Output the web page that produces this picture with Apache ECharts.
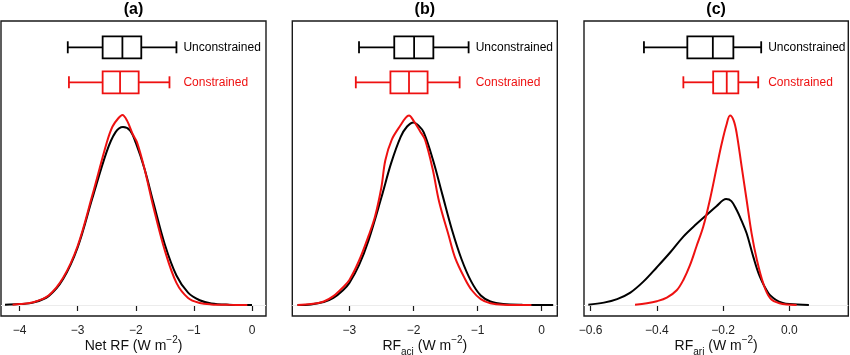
<!DOCTYPE html>
<html><head><meta charset="utf-8">
<script src="https://cdn.jsdelivr.net/npm/echarts@6/dist/echarts.min.js"></script>
<style>html,body{margin:0;padding:0;background:#fff}#c{width:850px;height:355px}</style>
</head><body><div id="c"></div>
<script>
// ---- data ----
const panelTitles = ['(a)', '(b)', '(c)'];
const ticksA = [-4, -3, -2, -1, 0];
const ticksB = [-3, -2, -1, 0];
const ticksC = [-0.6, -0.4, -0.2, 0.0];

// density curves (x, y) — y in relative density units
const uncAx = [-4.25,-4.0,-3.75,-3.5,-3.25,-3.0,-2.75,-2.5,-2.35,-2.22,-2.1,-2.0,-1.85,-1.7,-1.5,-1.3,-1.1,-0.9,-0.7,-0.4,0.0];
const uncAy = [0.001,0.003,0.009,0.03,0.088,0.195,0.36,0.52,0.585,0.603,0.592,0.55,0.462,0.35,0.205,0.1,0.042,0.016,0.005,0.001,0.0];
const conAx = [-4.12,-4.0,-3.75,-3.5,-3.25,-3.0,-2.75,-2.5,-2.4,-2.3,-2.23,-2.15,-2.05,-1.98,-1.85,-1.7,-1.5,-1.3,-1.1,-0.9,-0.7,-0.4,-0.08];
const conAy = [0.001,0.003,0.01,0.032,0.092,0.2,0.37,0.55,0.605,0.633,0.644,0.625,0.578,0.552,0.462,0.335,0.185,0.075,0.024,0.007,0.002,0.0005,0.0];

const uncBx = [-3.81,-3.6,-3.4,-3.25,-3.1,-3.0,-2.85,-2.7,-2.5,-2.35,-2.2,-2.1,-2.0,-1.92,-1.84,-1.7,-1.55,-1.4,-1.25,-1.1,-0.95,-0.8,-0.6,-0.3,0.18];
const uncBy = [0.0,0.002,0.01,0.024,0.05,0.075,0.135,0.22,0.365,0.48,0.57,0.605,0.619,0.608,0.585,0.495,0.375,0.255,0.155,0.08,0.032,0.012,0.003,0.0005,0.0];
const conBx = [-3.81,-3.6,-3.4,-3.25,-3.1,-3.0,-2.85,-2.7,-2.6,-2.5,-2.44,-2.34,-2.2,-2.12,-2.07,-2.0,-1.9,-1.82,-1.7,-1.6,-1.45,-1.35,-1.2,-1.09,-0.95,-0.8,-0.6,-0.16];
const conBy = [0.0,0.003,0.012,0.03,0.06,0.085,0.15,0.235,0.30,0.40,0.49,0.56,0.61,0.635,0.642,0.625,0.59,0.56,0.46,0.35,0.235,0.16,0.09,0.05,0.02,0.006,0.001,0.0];

const uncCx = [-0.607,-0.56,-0.52,-0.48,-0.44,-0.40,-0.36,-0.32,-0.285,-0.25,-0.22,-0.191,-0.175,-0.159,-0.144,-0.129,-0.109,-0.089,-0.063,-0.04,-0.02,0.0,0.059];
const uncCy = [0.001,0.008,0.02,0.042,0.08,0.128,0.178,0.232,0.27,0.305,0.335,0.359,0.352,0.322,0.285,0.243,0.164,0.096,0.04,0.017,0.007,0.003,0.0];
const conCx = [-0.466,-0.43,-0.40,-0.37,-0.34,-0.32,-0.30,-0.28,-0.26,-0.24,-0.219,-0.204,-0.19,-0.179,-0.168,-0.159,-0.144,-0.129,-0.114,-0.098,-0.079,-0.058,-0.03,0.022];
const conCy = [0.001,0.006,0.013,0.025,0.05,0.085,0.135,0.2,0.265,0.356,0.469,0.548,0.61,0.642,0.625,0.582,0.469,0.356,0.243,0.153,0.074,0.023,0.006,0.0];

// boxplot stats: [min, q1, median, q3, max]
const boxUncA = [-3.17, -2.57, -2.23, -1.905, -1.30];
const boxConA = [-3.15, -2.57, -2.27, -1.95, -1.42];
const boxUncB = [-2.85, -2.30, -1.99, -1.69, -1.14];
const boxConB = [-2.90, -2.36, -2.07, -1.78, -1.28];
const boxUncC = [-0.439, -0.308, -0.231, -0.169, -0.085];
const boxConC = [-0.320, -0.230, -0.189, -0.154, -0.094];
const boxLabels = ['Unconstrained', 'Constrained'];
const labelXs = [-1.18, -1.03, -0.064];
</script>
<script>
const FONT = '"Liberation Sans", Arial, Helvetica, sans-serif';
const BLACK = '#000000', RED = '#ee1111';
const zip = (xs, ys) => xs.map((x, i) => [x, ys[i]]);

const layout = [
  { left: 1, width: 265, xmin: -4.319, xmax: 0.241, ticks: ticksA, dec: 0,
    name: '{n|Net RF (W m}{sup|−2}{n|)}' },
  { left: 292.3, width: 265, xmin: -3.891, xmax: 0.244, ticks: ticksB, dec: 0,
    name: '{n|RF}{sub|aci}{n| (W m}{sup|−2}{n|)}' },
  { left: 584, width: 264.3, xmin: -0.620, xmax: 0.178, ticks: ticksC, dec: 1,
    name: '{n|RF}{sub|ari}{n| (W m}{sup|−2}{n|)}' }
];
const curves = [
  [zip(uncAx, uncAy), zip(conAx, conAy)],
  [zip(uncBx, uncBy), zip(conBx, conBy)],
  [zip(uncCx, uncCy), zip(conCx, conCy)]
];
const boxes = [[boxUncA, boxConA], [boxUncB, boxConB], [boxUncC, boxConC]];

const TOP = 21, H = 295;
const YMIN = -11 / 295, YMAX = 284 / 295;
const ROW_Y = [0.8736, 0.7549];

const grid = [], xAxis = [], yAxis = [], series = [], title = [];
layout.forEach((L, i) => {
  grid.push({ left: L.left, top: TOP, width: L.width, height: H, show: true,
    containLabel: false, outerBoundsMode: 'none',
    borderColor: '#1a1a1a', borderWidth: 1.4, backgroundColor: 'transparent' });
  title.push({ text: panelTitles[i], left: L.left + L.width / 2, top: 1, padding: 0, textAlign: 'center',
    textStyle: { fontFamily: FONT, fontSize: 16, fontWeight: 'bold', color: '#000', lineHeight: 18 } });
  xAxis.push({ type: 'value', gridIndex: i, min: L.xmin, max: L.xmax,
    splitLine: { show: false }, axisLine: { show: false },
    axisTick: { show: true, inside: false, length: 6, customValues: L.ticks,
      lineStyle: { color: '#1a1a1a', width: 1.2 } },
    axisLabel: { show: true, margin: 9, customValues: L.ticks, color: '#222',
      fontFamily: FONT, fontSize: 12,
      formatter: v => (v < 0 ? '−' : '') + Math.abs(v).toFixed(L.dec) },
    name: L.name, nameLocation: 'middle', nameGap: 19, nameMoveOverlap: false,
    nameTextStyle: { color: '#111', fontFamily: FONT,
      rich: {
        n: { fontSize: 14, fontFamily: FONT, color: '#111', lineHeight: 22 },
        sup: { fontSize: 10, fontFamily: FONT, color: '#111', verticalAlign: 'top', lineHeight: 14 },
        sub: { fontSize: 10, fontFamily: FONT, color: '#111', verticalAlign: 'bottom', lineHeight: 14 }
      } } });
  yAxis.push({ type: 'value', gridIndex: i, min: YMIN, max: YMAX, show: false, splitLine: { show: false } });

  const [unc, con] = curves[i];
  series.push({ type: 'line', xAxisIndex: i, yAxisIndex: i, data: unc, showSymbol: false, smooth: 0.35,
    lineStyle: { color: BLACK, width: 2 }, silent: true, z: 3,
    markLine: { silent: true, symbol: 'none', label: { show: false }, z: 1,
      lineStyle: { color: '#ececec', type: 'solid', width: 1 }, data: [{ yAxis: 0 }] } });
  series.push({ type: 'line', xAxisIndex: i, yAxisIndex: i, data: con, showSymbol: false, smooth: 0.35,
    lineStyle: { color: RED, width: 2 }, silent: true, z: 4 });

  [0, 1].forEach(k => {
    const color = k === 0 ? BLACK : RED;
    const st = boxes[i][k];
    series.push({ type: 'custom', xAxisIndex: i, yAxisIndex: i, silent: true, z: 5,
      encode: { x: [1, 2, 3, 4, 5, 6], y: 0 },
      data: [[ROW_Y[k], st[0], st[1], st[2], st[3], st[4], labelXs[i]]],
      renderItem: (params, api) => {
        const y = api.value(0);
        const c = j => api.coord([api.value(j), y]);
        const pMin = c(1), pQ1 = c(2), pMed = c(3), pQ3 = c(4), pMax = c(5), pLab = c(6);
        const cy = pMin[1], bh = 11, ch = 6;
        const ls = { stroke: color, lineWidth: 1.8, fill: null };
        return { type: 'group', children: [
          { type: 'line', shape: { x1: pMin[0], y1: cy, x2: pQ1[0], y2: cy }, style: ls },
          { type: 'line', shape: { x1: pQ3[0], y1: cy, x2: pMax[0], y2: cy }, style: ls },
          { type: 'line', shape: { x1: pMin[0], y1: cy - ch, x2: pMin[0], y2: cy + ch }, style: ls },
          { type: 'line', shape: { x1: pMax[0], y1: cy - ch, x2: pMax[0], y2: cy + ch }, style: ls },
          { type: 'rect', shape: { x: pQ1[0], y: cy - bh, width: pQ3[0] - pQ1[0], height: 2 * bh },
            style: { stroke: color, lineWidth: 1.8, fill: 'rgba(0,0,0,0)' } },
          { type: 'line', shape: { x1: pMed[0], y1: cy - bh, x2: pMed[0], y2: cy + bh }, style: ls },
          { type: 'text', x: pLab[0], y: cy,
            style: { text: boxLabels[k], fill: color, fontSize: 12, fontFamily: FONT,
              align: 'left', verticalAlign: 'middle' } }
        ] };
      } });
  });
});

const chart = echarts.init(document.getElementById('c'), null, { renderer: 'canvas' });
chart.setOption({ animation: false, backgroundColor: '#fff', title, grid, xAxis, yAxis, series });
</script>
</body></html>
